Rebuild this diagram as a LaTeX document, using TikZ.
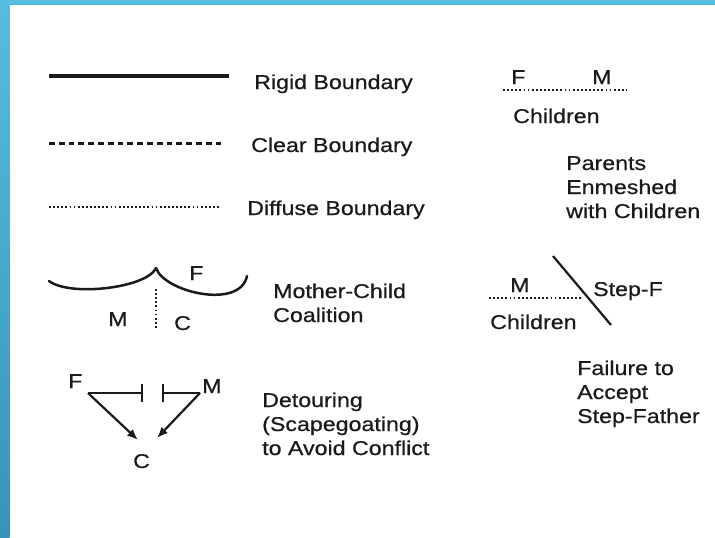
\documentclass[tikz,border=0pt]{standalone}
\usepackage{fontspec}
\setmainfont{Liberation Sans}[FakeStretch=1.16,FakeBold=0.6]
\usetikzlibrary{arrows.meta}
\definecolor{barTop}{HTML}{55BDE1}
\definecolor{barBot}{HTML}{3893BC}
\definecolor{ink}{HTML}{1A1A1A}
\begin{document}
\begin{tikzpicture}[x=1pt,y=-1pt,
  lbl/.style={anchor=base west,inner sep=0pt,text=ink,font=\fontsize{20}{24}\selectfont},
  rigidline/.style={draw=ink,line width=3.4pt},
  clearline/.style={draw=ink,line width=3pt,dash pattern=on 5.8pt off 4pt},
  diffuseline/.style={draw=ink,line width=2.2pt,dash pattern=on 1.8pt off 2.3pt},
  conn/.style={draw=ink,line width=2.2pt},
  arr/.style={conn,-{Latex[length=11pt,width=9pt]}},
  blocked/.style={conn,-{Bar[width=18pt,line width=2.2pt]}}]
\useasboundingbox (0,0) rectangle (715,538);
\fill[white] (0,0) rectangle (715,538);
\fill[barTop] (0,0) rectangle (715,4.5);
\shade[top color=barTop,bottom color=barBot] (0,0) rectangle (9.5,538);

% legend lines
\coordinate (r1) at (49,76);  \coordinate (r2) at (229,76);
\coordinate (c1) at (49,143); \coordinate (c2) at (221,143);
\coordinate (f1) at (49,207); \coordinate (f2) at (221,207);
\draw[rigidline] (r1) -- (r2);
\draw[clearline] (c1) -- (c2);
\draw[diffuseline] (f1) -- (f2);
\node[lbl] (rigidT) at (254,89) {Rigid Boundary};
\node[lbl] (clearT) at (251,152) {Clear Boundary};
\node[lbl] (diffT) at (247,215) {Diffuse Boundary};

% mother-child coalition
\coordinate (ca) at (49,281);
\coordinate (cp) at (156,268);
\coordinate (ce) at (247,276);
\draw[conn,line width=2.5pt,line cap=round,line join=round]
  (ca) .. controls (70,297) and (147,288) .. (cp)
       .. controls (164,292) and (240,310) .. (ce);
\coordinate (v1) at (156,289); \coordinate (v2) at (156,328);
\draw[diffuseline,line width=2.4pt] (v1) -- (v2);
\node[lbl] (cM) at (108,326) {M};
\node[lbl] (cC) at (174,330) {C};
\node[lbl] (cF) at (189,280) {F};
\node[lbl] (mc1) at (273,298) {Mother-Child};
\node[lbl] (mc2) at (273,322) {Coalition};

% detouring
\node[lbl] (dF) at (68,388) {F};
\node[lbl] (dM) at (202,393) {M};
\node[lbl] (dC) at (133,468) {C};
\coordinate (fc) at (88,393); \coordinate (mcr) at (200,393);
\coordinate (b1) at (143,393); \coordinate (b2) at (162,393);
\coordinate (ta) at (138,440); \coordinate (tb) at (157,438);
\draw[blocked] (fc) -- (b1);
\draw[blocked] (mcr) -- (b2);
\draw[arr] (fc) -- (ta);
\draw[arr] (mcr) -- (tb);
\node[lbl] (dt1) at (262,407) {Detouring};
\node[lbl] (dt2) at (262,431) {(Scapegoating)};
\node[lbl] (dt3) at (262,455) {to Avoid Conflict};

% enmeshed
\node[lbl] (eF) at (511,84) {F};
\node[lbl] (eM) at (592,84) {M};
\coordinate (e1) at (503,90); \coordinate (e2) at (627,90);
\draw[diffuseline] (e1) -- (e2);
\node[lbl] (eCh) at (513,123) {Children};
\node[lbl] (en1) at (566,170) {Parents};
\node[lbl] (en2) at (566,194) {Enmeshed};
\node[lbl] (en3) at (566,218) {with Children};

% step-father
\node[lbl] (sM) at (510,292) {M};
\coordinate (s1) at (489,298); \coordinate (s2) at (583,298);
\draw[diffuseline] (s1) -- (s2);
\node[lbl] (sCh) at (490,329) {Children};
\coordinate (sl1) at (553,256); \coordinate (sl2) at (611,325);
\draw[conn] (sl1) -- (sl2);
\node[lbl] (sF) at (593,296) {Step-F};
\node[lbl] (fa1) at (577,375) {Failure to};
\node[lbl] (fa2) at (577,399) {Accept};
\node[lbl] (fa3) at (577,423) {Step-Father};
\end{tikzpicture}
\end{document}
